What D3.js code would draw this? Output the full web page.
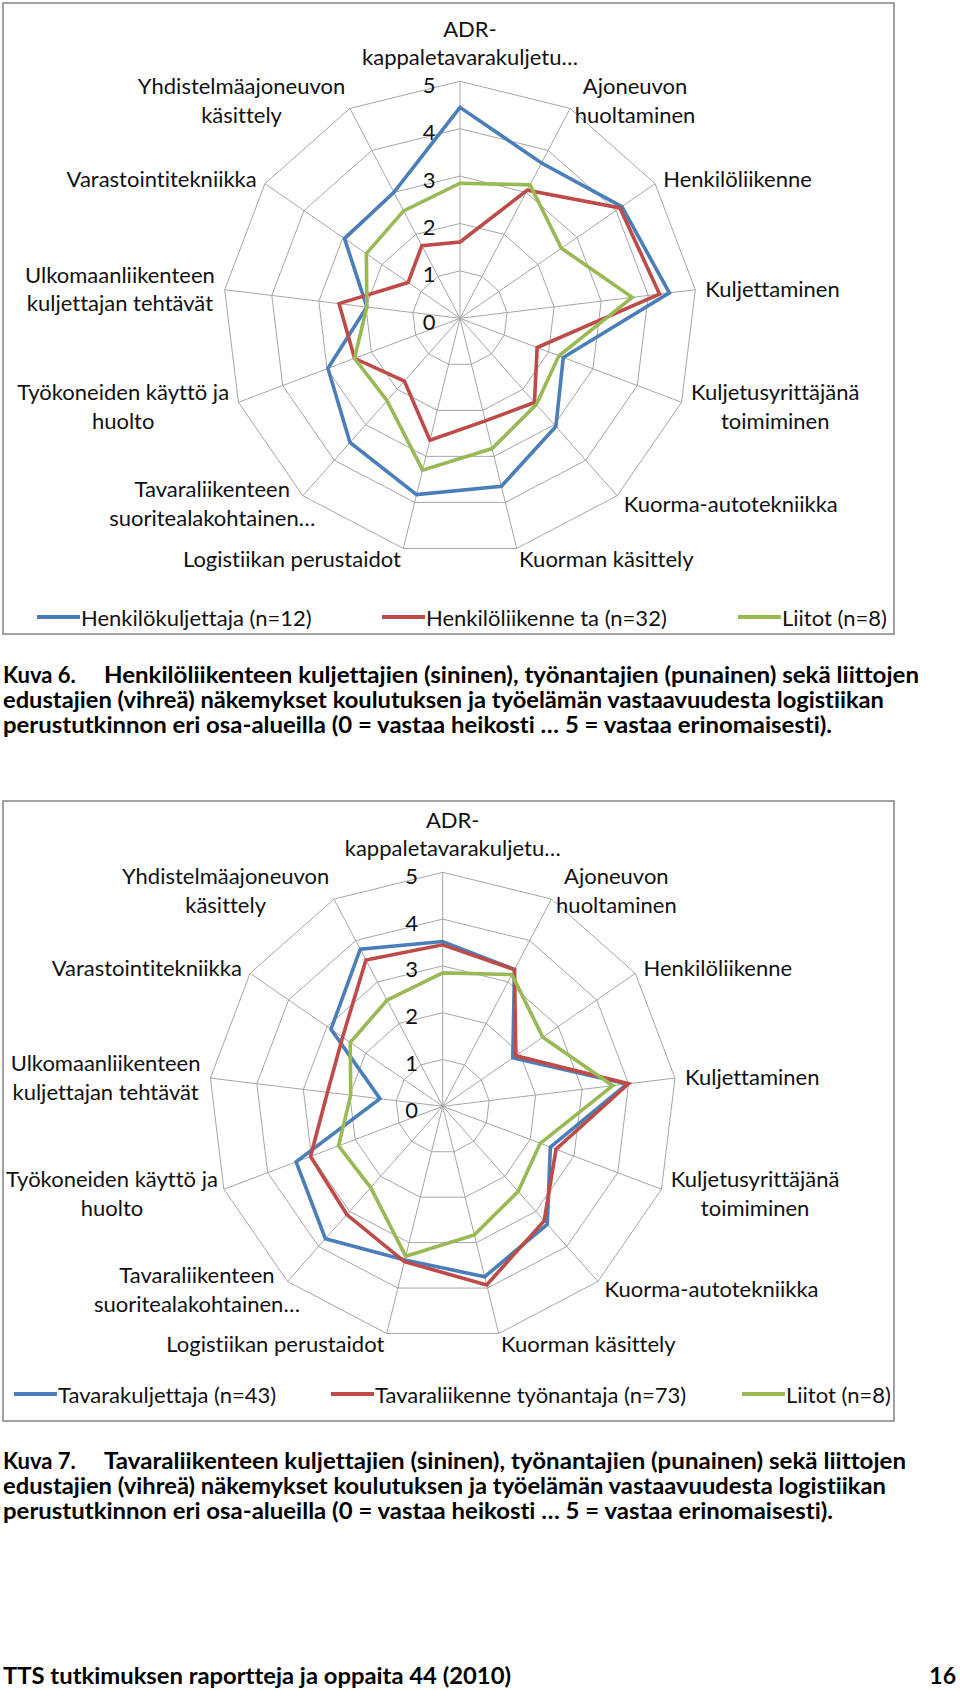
<!DOCTYPE html>
<html>
<head>
<meta charset="utf-8">
<script src="https://cdnjs.cloudflare.com/ajax/libs/d3/7.8.5/d3.min.js"></script>
<style>
	body { margin: 0; background: #fff; }
	svg { display: block; font-variant-ligatures: none; }
</style>
</head>
<body>
<div id="page"></div>
<script>
/* Data */
const categoryLabels = [
	["ADR-", "kappaletavarakuljetu…"],
	["Ajoneuvon", "huoltaminen"],
	["Henkilöliikenne"],
	["Kuljettaminen"],
	["Kuljetusyrittäjänä", "toimiminen"],
	["Kuorma-autotekniikka"],
	["Kuorman käsittely"],
	["Logistiikan perustaidot"],
	["Tavaraliikenteen", "suoritealakohtainen…"],
	["Työkoneiden käyttö ja", "huolto"],
	["Ulkomaanliikenteen", "kuljettajan tehtävät"],
	["Varastointitekniikka"],
	["Yhdistelmäajoneuvon", "käsittely"]
]
const ratingTicks = [0, 1, 2, 3, 4, 5]

// Kuva 6
const henkilokuljettaja = [4.45, 3.7, 4.15, 4.45, 2.33, 3.05, 3.65, 3.83, 3.5, 2.98, 1.98, 2.96, 3.0]
const henkiloliikenneTa = [1.61, 3.05, 4.1, 4.24, 1.74, 2.37, 2.23, 2.65, 1.77, 2.38, 2.57, 1.33, 1.73]
// same answers in both pictures
const liitot = [2.85, 3.18, 2.6, 3.66, 2.23, 2.43, 2.83, 3.3, 2.32, 2.38, 1.98, 2.4, 2.56]
// Kuva 7
const tavarakuljettaja = [3.52, 3.3, 1.82, 3.97, 2.46, 3.37, 3.75, 3.38, 3.78, 3.35, 1.35, 2.9, 3.79]
const tavaraliikenneTyonantaja = [3.45, 3.3, 1.9, 4.0, 2.59, 3.27, 3.93, 3.42, 3.09, 3.02, 2.48, 2.6, 3.53]

const seriesNames6 = ["Henkilökuljettaja (n=12)", "Henkilöliikenne ta (n=32)", "Liitot (n=8)"]
const seriesNames7 = ["Tavarakuljettaja (n=43)", "Tavaraliikenne työnantaja (n=73)", "Liitot (n=8)"]
const seriesColors = ["#4a7ebb", "#be4b48", "#98b954"]

const caption6 = [
	"Kuva 6.",
	"Henkilöliikenteen kuljettajien (sininen), työnantajien (punainen) sekä liittojen",
	"edustajien (vihreä) näkemykset koulutuksen ja työelämän vastaavuudesta logistiikan",
	"perustutkinnon eri osa-alueilla (0 = vastaa heikosti … 5 = vastaa erinomaisesti)."
]
const caption7 = [
	"Kuva 7.",
	"Tavaraliikenteen kuljettajien (sininen), työnantajien (punainen) sekä liittojen",
	"edustajien (vihreä) näkemykset koulutuksen ja työelämän vastaavuudesta logistiikan",
	"perustutkinnon eri osa-alueilla (0 = vastaa heikosti … 5 = vastaa erinomaisesti)."
]
const footerText = "TTS tutkimuksen raportteja ja oppaita 44 (2010)"
const pageNumber = "16"

/* Canvas */
const WIDTH = 960
const HEIGHT = 1690
const chartFont = "Lato, 'Open Sans', sans-serif"

const $svg = d3.select('#page')
	.append('svg')
	.attr('width', WIDTH)
	.attr('height', HEIGHT)
	.style('font-family', chartFont)

$svg.append('rect').attr('width', WIDTH).attr('height', HEIGHT).attr('fill', '#fff')

const step = 2 * Math.PI / categoryLabels.length
// truncated labels sit a bit off in the original
const labelShift = { 0: 10, 8: 19 }

function drawRadar(opts) {
	const { box, cx, cy, R, legendY, legendX, series, names } = opts

	$svg.append('rect')
		.attr('x', box.x).attr('y', box.y)
		.attr('width', box.w).attr('height', box.h)
		.attr('fill', 'none')
		.attr('stroke', '#8a8a8a')
		.attr('stroke-width', 1.6)

	const $g = $svg.append('g').attr('transform', `translate(${cx}, ${cy})`)

	const rScale = d3.scaleLinear().domain([0, 5]).range([0, R])

	const ringLine = d3.lineRadial()
		.angle((d, i) => i * step)
		.radius(d => rScale(d))
		.curve(d3.curveLinearClosed)

	// grid rings
	$g.selectAll('.ring')
		.data(ratingTicks.slice(1))
		.enter()
		.append('path')
		.attr('class', 'ring')
		.attr('d', t => ringLine(categoryLabels.map(() => t)))
		.attr('fill', 'none')
		.attr('stroke', '#a6a6a6')
		.attr('stroke-width', 1)

	// spokes
	$g.selectAll('.spoke')
		.data(categoryLabels)
		.enter()
		.append('line')
		.attr('x2', (d, i) => rScale(5) * Math.sin(i * step))
		.attr('y2', (d, i) => -rScale(5) * Math.cos(i * step))
		.attr('stroke', '#a6a6a6')
		.attr('stroke-width', 1)

	// tick labels
	$g.selectAll('.tick-label')
		.data(ratingTicks)
		.enter()
		.append('text')
		.attr('x', -31)
		.attr('y', t => -rScale(t) + 3)
		.attr('text-anchor', 'middle')
		.attr('dominant-baseline', 'central')
		.attr('font-size', 22)
		.attr('fill', '#111')
		.text(t => t)

	// series
	$g.selectAll('.series')
		.data(series)
		.enter()
		.append('path')
		.attr('d', d => ringLine(d))
		.attr('fill', 'none')
		.attr('stroke', (d, i) => seriesColors[i])
		.attr('stroke-width', 3.6)
		.attr('stroke-linejoin', 'miter')

	// category labels
	const lh = 28.8
	categoryLabels.forEach((lines, i) => {
		const a = i * step
		const s = Math.sin(a), c = Math.cos(a)
		const px = (R + 10) * s
		const py = -(R + 10) * c
		const $t = $g.append('g')
		const $lines = $t.selectAll('text')
			.data(lines)
			.enter()
			.append('text')
			.attr('text-anchor', 'middle')
			.attr('dominant-baseline', 'central')
			.attr('font-size', 22)
			.attr('fill', '#111')
			.text(d => d)
		let w = 0
		$lines.each(function() { w = Math.max(w, this.getComputedTextLength()) })
		const h = lines.length * lh
		let x
		if (Math.abs(s) < 0.05) x = px
		else if (s > 0) x = px + w / 2
		else x = px - w / 2
		x += labelShift[i] || 0
		// keep inside the chart frame
		const minX = box.x + 3 - cx + w / 2
		if (x < minX) x = minX
		const top = (Math.abs(s) < 0.05 && c > 0) ? py - h : py - h / 2
		$lines.attr('x', x).attr('y', (d, j) => top + lh / 2 + j * lh)
	})

	// legend
	const $legend = $svg.append('g')
	names.forEach((name, i) => {
		$legend.append('line')
			.attr('x1', legendX[i]).attr('x2', legendX[i] + 43)
			.attr('y1', legendY).attr('y2', legendY)
			.attr('stroke', seriesColors[i])
			.attr('stroke-width', 4)
		$legend.append('text')
			.attr('x', legendX[i] + 44)
			.attr('y', legendY)
			.attr('dominant-baseline', 'central')
			.attr('font-size', 22)
			.attr('fill', '#111')
			.text(name)
	})
}

function drawCaption(lines, baseY, widths) {
	const $c = $svg.append('g')
		.attr('font-weight', 'bold')
		.attr('font-size', 22)
		.attr('fill', '#000')
	$c.append('text').attr('x', 3).attr('y', baseY).text(lines[0])
	$c.append('text').attr('x', 104).attr('y', baseY)
		.attr('textLength', widths[0]).attr('lengthAdjust', 'spacingAndGlyphs')
		.text(lines[1])
	$c.append('text').attr('x', 3).attr('y', baseY + 25)
		.attr('textLength', widths[1]).attr('lengthAdjust', 'spacingAndGlyphs')
		.text(lines[2])
	$c.append('text').attr('x', 3).attr('y', baseY + 50)
		.attr('textLength', widths[2]).attr('lengthAdjust', 'spacingAndGlyphs')
		.text(lines[3])
}

drawRadar({
	box: { x: 3, y: 3, w: 891, h: 631 },
	cx: 460, cy: 318.3, R: 237,
	legendY: 617,
	legendX: [37, 382, 738],
	series: [henkilokuljettaja, henkiloliikenneTa, liitot],
	names: seriesNames6
})

drawRadar({
	box: { x: 3, y: 801, w: 891, h: 620 },
	cx: 442.7, cy: 1106.3, R: 234,
	legendY: 1394,
	legendX: [14, 331, 742],
	series: [tavarakuljettaja, tavaraliikenneTyonantaja, liitot],
	names: seriesNames7
})

drawCaption(caption6, 683, [815, 881, 829])
drawCaption(caption7, 1468.5, [802, 883, 830])

$svg.append('text')
	.attr('x', 3).attr('y', 1684)
	.attr('font-weight', 'bold').attr('font-size', 23)
	.attr('textLength', 508).attr('lengthAdjust', 'spacingAndGlyphs')
	.text(footerText)
$svg.append('text')
	.attr('x', 956).attr('y', 1684)
	.attr('text-anchor', 'end')
	.attr('font-weight', 'bold').attr('font-size', 23)
	.text(pageNumber)
</script>
</body>
</html>
